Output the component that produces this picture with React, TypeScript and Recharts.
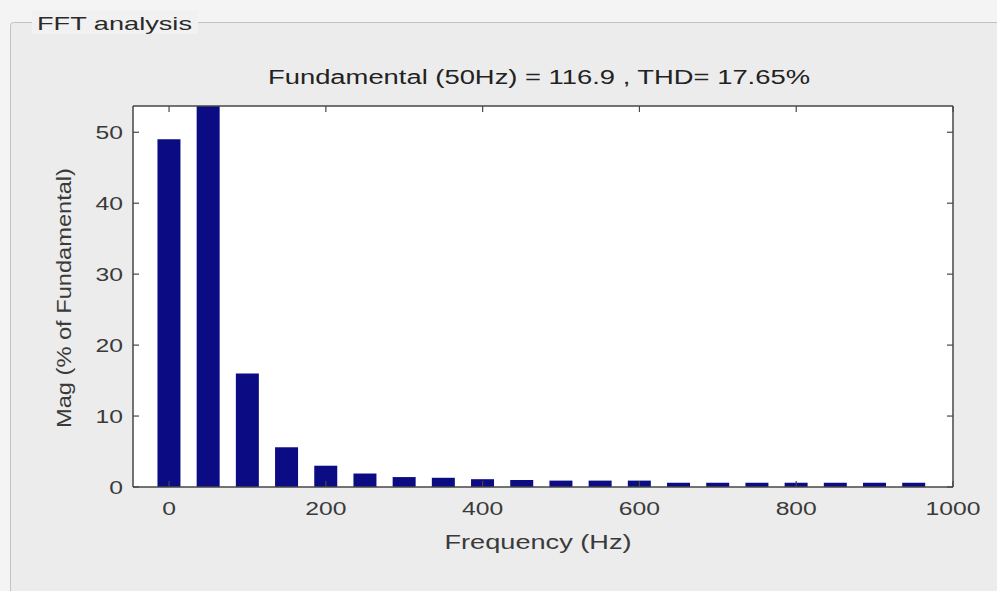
import { BarChart, Bar, XAxis, YAxis, CartesianGrid } from "recharts";

// FFT spectrum, 50 Hz steps (magnitude in % of fundamental)
const freqs = [0, 50, 100, 150, 200, 250, 300, 350, 400, 450, 500, 550, 600, 650, 700, 750, 800, 850, 900, 950];
const mags = [49.0, 100, 16.0, 5.6, 3.0, 1.9, 1.4, 1.3, 1.1, 1.0, 0.9, 0.9, 0.9, 0.6, 0.6, 0.6, 0.6, 0.6, 0.6, 0.6];

const xTicks = [0, 200, 400, 600, 800, 1000];
const yTicks = [0, 10, 20, 30, 40, 50];

const title = "Fundamental (50Hz) = 116.9 , THD= 17.65%";
const xLabel = "Frequency (Hz)";
const yLabel = "Mag (% of Fundamental)";
const panelLabel = "FFT analysis";

const data = freqs.map((f, i) => ({ freq: f, mag: mags[i] }));

const W = 997;
const H = 591;
const M = { top: 105, right: 43, bottom: 103, left: 132 };
const PLOT_TOP = M.top + 1;
const PLOT_RIGHT = W - M.right - 1;
const AXIS = "#474747";
const TXT = "#3a3a3a";
const FONT = "'Liberation Sans', Arial, sans-serif";

// inward tick marks on bottom + top edge, label under the bottom one
function BottomTick({ x, y, payload }: any) {
  return (
    <g>
      <line x1={x} x2={x} y1={y} y2={y - 6} stroke={AXIS} strokeWidth={1.2} />
      <line x1={x} x2={x} y1={PLOT_TOP} y2={PLOT_TOP + 6} stroke={AXIS} strokeWidth={1.2} />
      <text
        transform={`translate(${x},${y + 28}) scale(1.3,1)`}
        textAnchor="middle"
        fontSize={19}
        fontFamily={FONT}
        fill={TXT}
      >
        {payload.value}
      </text>
    </g>
  );
}

// inward tick marks on left + right edge
function LeftTick({ x, y, payload }: any) {
  return (
    <g>
      <line x1={x} x2={x + 6} y1={y} y2={y} stroke={AXIS} strokeWidth={1.2} />
      <line x1={PLOT_RIGHT} x2={PLOT_RIGHT - 6} y1={y} y2={y} stroke={AXIS} strokeWidth={1.2} />
      <text
        transform={`translate(${x - 10},${y + 7}) scale(1.3,1)`}
        textAnchor="end"
        fontSize={19}
        fontFamily={FONT}
        fill={TXT}
      >
        {payload.value}
      </text>
    </g>
  );
}

export default function App() {
  return (
    <div style={{ position: "absolute", left: 0, top: 0, width: W, height: H, background: "#f4f4f4", overflow: "hidden" }}>
      <svg width={W} height={H} style={{ position: "absolute", left: 0, top: 0 }}>
        <rect x={10.5} y={22.5} width={1000} height={600} rx={3} fill="#ececec" stroke="#c2c2c2" />
        <rect x={32} y={10} width={166} height={24} fill="#f1f1f1" />
        <text x={37} y={30} fontSize={19} fontFamily={FONT} fill="#2a2a2a" textLength={155} lengthAdjust="spacingAndGlyphs">
          {panelLabel}
        </text>
        <text x={539} y={84} textAnchor="middle" fontSize={20} fontFamily={FONT} fill="#222" textLength={542} lengthAdjust="spacingAndGlyphs">
          {title}
        </text>
        <text x={538} y={549} textAnchor="middle" fontSize={20} fontFamily={FONT} fill={TXT} textLength={187} lengthAdjust="spacingAndGlyphs">
          {xLabel}
        </text>
        <text
          transform="translate(71,298) rotate(-90)"
          textAnchor="middle"
          fontSize={20}
          fontFamily={FONT}
          fill={TXT}
          textLength={260}
          lengthAdjust="spacingAndGlyphs"
        >
          {yLabel}
        </text>
      </svg>
      <div style={{ position: "absolute", left: 0, top: 0 }}>
        <BarChart width={W} height={H} data={data} margin={M}>
          <CartesianGrid fill="#ffffff" horizontal={false} vertical={false} />
          <XAxis
            dataKey="freq"
            type="number"
            domain={[-46, 1000]}
            ticks={xTicks}
            height={1}
            tickSize={0}
            tickMargin={0}
            tickLine={false}
            tick={<BottomTick />}
            axisLine={{ stroke: AXIS, strokeWidth: 1.5 }}
            allowDataOverflow
          />
          <XAxis
            xAxisId="top"
            orientation="top"
            type="number"
            domain={[-46, 1000]}
            height={1}
            tick={false}
            tickLine={false}
            axisLine={{ stroke: AXIS, strokeWidth: 1.5 }}
          />
          <YAxis
            type="number"
            domain={[0, 53.7]}
            ticks={yTicks}
            width={1}
            tickSize={0}
            tickMargin={0}
            tickLine={false}
            tick={<LeftTick />}
            axisLine={{ stroke: AXIS, strokeWidth: 1.5 }}
            allowDataOverflow
          />
          <YAxis
            yAxisId="right"
            orientation="right"
            type="number"
            domain={[0, 53.7]}
            width={1}
            tick={false}
            tickLine={false}
            axisLine={{ stroke: AXIS, strokeWidth: 1.5 }}
          />
          <Bar dataKey="mag" fill="#0b0b84" barSize={23} isAnimationActive={false} />
        </BarChart>
      </div>
    </div>
  );
}
